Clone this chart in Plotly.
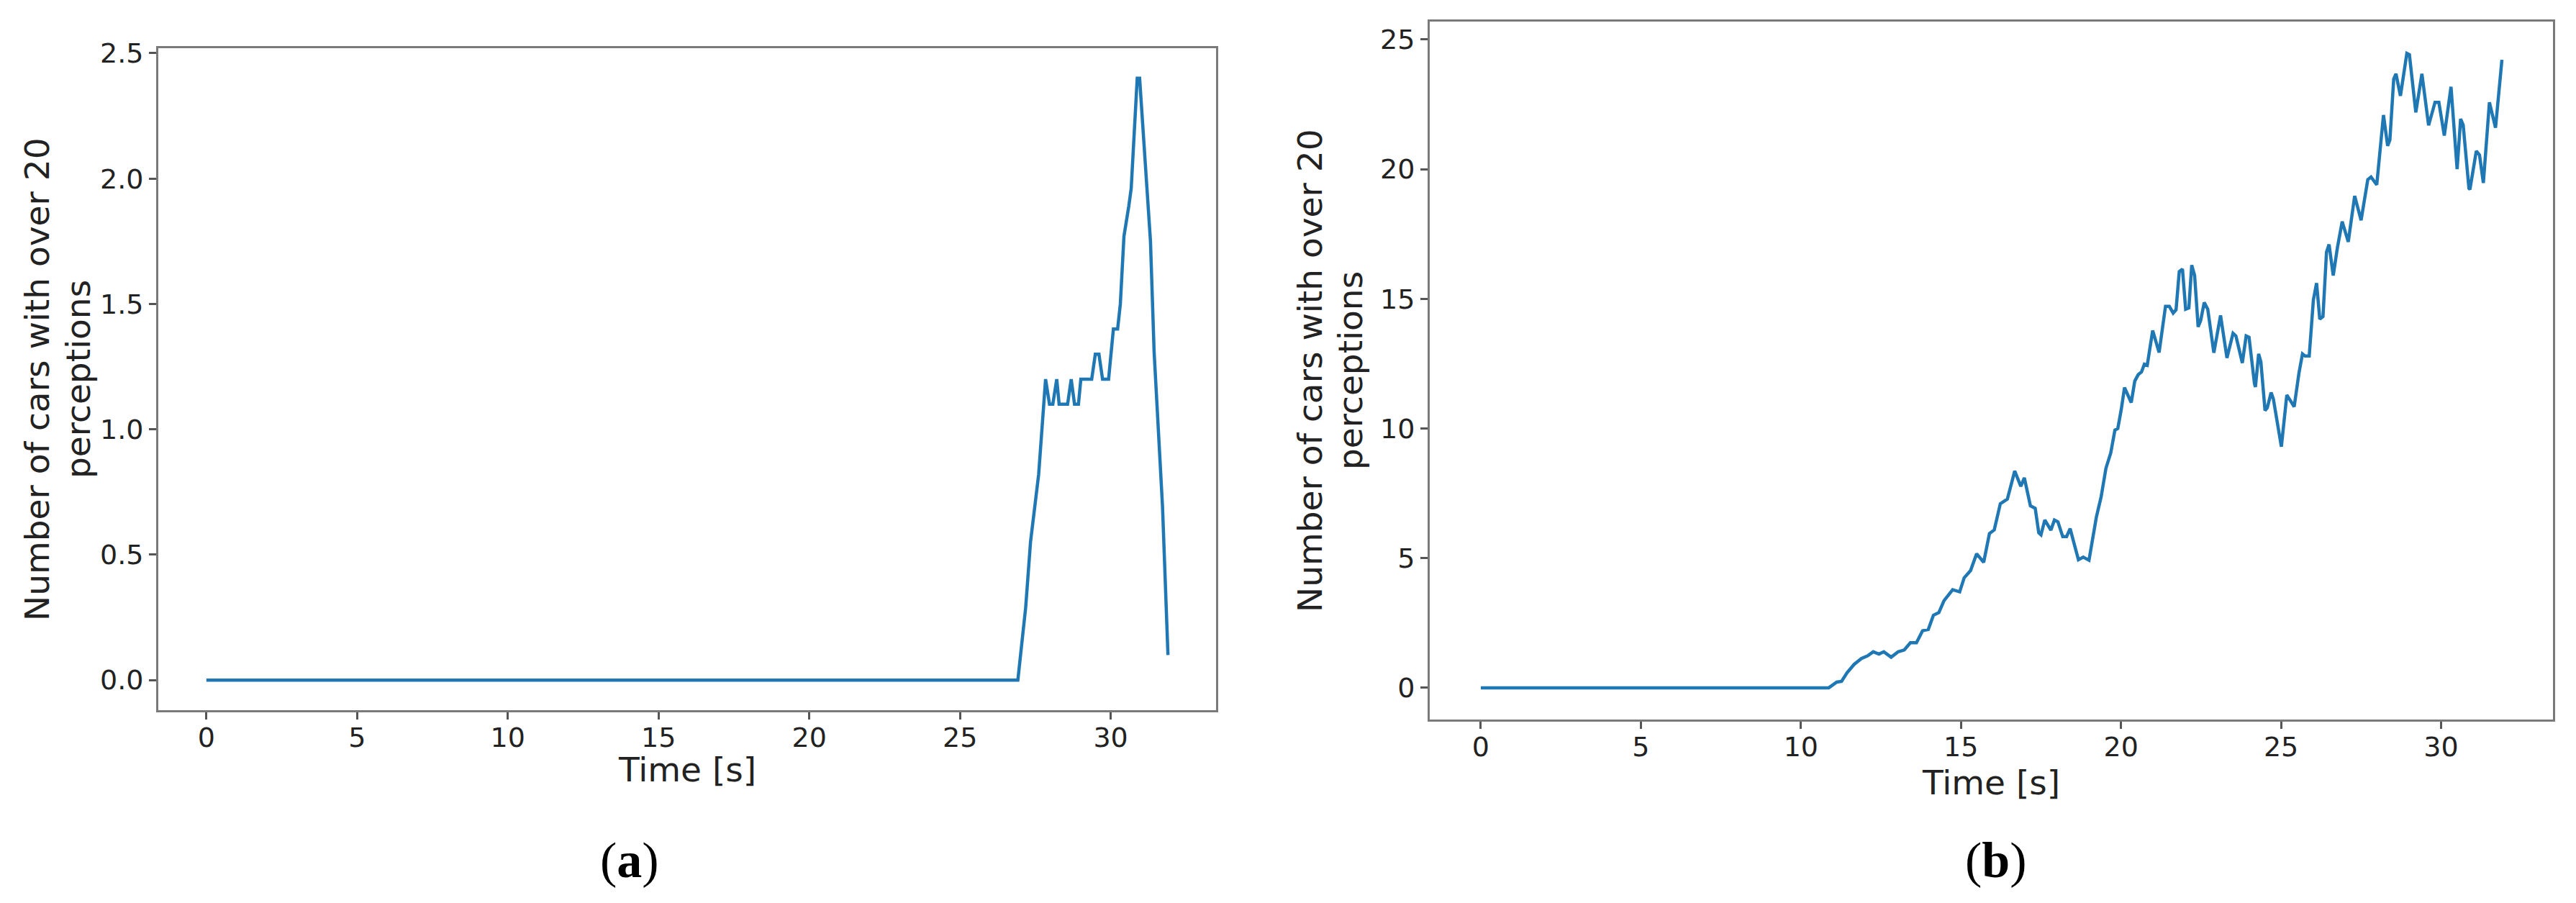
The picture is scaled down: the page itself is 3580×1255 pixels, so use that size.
import plotly.graph_objects as go

# ---------------- data ----------------
time_a = [0, 26.92, 27.18, 27.34, 27.61, 27.84, 27.97, 28.08, 28.21, 28.29, 28.57, 28.69,
          28.8, 28.93, 29.01, 29.37, 29.49, 29.61, 29.73, 29.93, 30.09, 30.23, 30.32, 30.44,
          30.6, 30.68, 30.88, 30.96, 31.32, 31.44, 31.72, 31.9]
cars_a = [0, 0, 0.29, 0.55, 0.82, 1.2, 1.1, 1.1, 1.2, 1.1, 1.1, 1.2,
          1.1, 1.1, 1.2, 1.2, 1.3, 1.3, 1.2, 1.2, 1.4, 1.4, 1.5, 1.77,
          1.89, 1.96, 2.4, 2.4, 1.75, 1.31, 0.69, 0.1]

time_b = [0, 10.87, 11.12, 11.27, 11.44, 11.66, 11.89, 12.08, 12.26, 12.44,
          12.59, 12.82, 13.04, 13.23, 13.42, 13.61, 13.8, 13.98, 14.14, 14.31,
          14.47, 14.74, 14.96, 15.1, 15.3, 15.49, 15.71, 15.89, 16.04, 16.23,
          16.45, 16.68, 16.87, 16.98, 17.17, 17.32, 17.43, 17.5, 17.62, 17.81,
          17.92, 18.03, 18.18, 18.3, 18.41, 18.52, 18.67, 18.82, 19.0, 19.23,
          19.38, 19.53, 19.68, 19.81, 19.9, 20.01, 20.11, 20.32, 20.43, 20.54,
          20.64, 20.73, 20.82, 20.99, 21.19, 21.39, 21.51, 21.63, 21.72, 21.82,
          21.92, 22.02, 22.12, 22.21, 22.3, 22.41, 22.49, 22.6, 22.71, 22.9,
          23.11, 23.31, 23.5, 23.59, 23.79, 23.91, 24.0, 24.17, 24.2, 24.3,
          24.37, 24.5, 24.57, 24.69, 24.76, 25.01, 25.18, 25.29, 25.41, 25.56,
          25.67, 25.75, 25.88, 26.01, 26.11, 26.21, 26.31, 26.42, 26.5, 26.63,
          26.76, 26.91, 27.1, 27.3, 27.5, 27.71, 27.81, 27.99, 28.2, 28.33,
          28.4, 28.52, 28.59, 28.73, 28.93, 29.01, 29.21, 29.4, 29.61, 29.81,
          29.93, 30.1, 30.31, 30.5, 30.61, 30.69, 30.87, 30.9, 31.1, 31.2,
          31.32, 31.51, 31.7, 31.9]
cars_b = [0, 0, 0.22, 0.25, 0.58, 0.9, 1.13, 1.23, 1.39, 1.3,
          1.39, 1.18, 1.39, 1.46, 1.74, 1.74, 2.2, 2.25, 2.8, 2.9,
          3.36, 3.78, 3.7, 4.24, 4.52, 5.17, 4.84, 5.95, 6.09, 7.1,
          7.28, 8.36, 7.77, 8.1, 7.02, 6.92, 5.98, 5.9, 6.47, 6.08,
          6.47, 6.4, 5.83, 5.83, 6.14, 5.58, 4.94, 5.04, 4.92, 6.58,
          7.37, 8.47, 9.06, 9.94, 10.0, 10.75, 11.58, 11.0, 11.83, 12.08,
          12.18, 12.48, 12.44, 13.78, 12.93, 14.71, 14.71, 14.45, 14.58, 16.05,
          16.15, 14.6, 14.65, 16.3, 15.9, 13.92, 14.17, 14.86, 14.6, 12.92,
          14.36, 12.72, 13.67, 13.57, 12.53, 13.57, 13.52, 11.73, 11.6, 12.88,
          12.57, 10.69, 10.8, 11.39, 11.14, 9.3, 11.29, 11.08, 10.84, 12.14,
          12.88, 12.8, 12.8, 14.96, 15.61, 14.22, 14.32, 16.8, 17.1, 15.9,
          16.97, 17.98, 17.2, 18.97, 18.03, 19.6, 19.7, 19.4, 22.09, 20.9,
          21.13, 23.48, 23.68, 22.83, 24.47, 24.42, 22.19, 23.68, 21.69, 22.58,
          22.58, 21.3, 23.18, 20.0, 21.94, 21.7, 19.26, 19.22, 20.7, 20.55,
          19.47, 22.58, 21.6, 24.22]

x_ticks = [0, 5, 10, 15, 20, 25, 30]
y_ticks_a = [0.0, 0.5, 1.0, 1.5, 2.0, 2.5]
y_ticklabels_a = ["0.0", "0.5", "1.0", "1.5", "2.0", "2.5"]
y_ticks_b = [0, 5, 10, 15, 20, 25]

x_title = "Time [s]"
y_title_lines = ["Number of cars with over 20", "perceptions"]
captions = ["(<b>a</b>)", "(<b>b</b>)"]

assert len(time_a) == len(cars_a)
assert len(time_b) == len(cars_b)

# ---------------- figure ----------------
W, H = 3580, 1255
LINE = "#1f77b4"
FONT = "DejaVu Sans"
TXT = "#222222"

fig = go.Figure()
fig.add_trace(go.Scatter(x=time_a, y=cars_a, mode="lines", line=dict(color=LINE, width=4.5),
                         xaxis="x", yaxis="y", showlegend=False))
fig.add_trace(go.Scatter(x=time_b, y=cars_b, mode="lines", line=dict(color=LINE, width=4.5),
                         xaxis="x2", yaxis="y2", showlegend=False))

def px_x(p):
    return p / W

def px_y(p):
    return 1 - p / H

axis_common = dict(showgrid=False, zeroline=False, showline=True, mirror=True,
                   linecolor="#7a7a7a", linewidth=3, ticks="outside", ticklen=10,
                   tickwidth=2.5, tickcolor="#555555",
                   tickfont=dict(family=FONT, size=38, color=TXT))

x_rng = [-1.595, 33.495]

fig.update_layout(
    width=W, height=H, autosize=False,
    margin=dict(l=0, r=0, t=0, b=0, autoexpand=False),
    paper_bgcolor="white", plot_bgcolor="white",
    xaxis=dict(domain=[px_x(220), px_x(1690)], range=x_rng, anchor="y",
               tickvals=x_ticks, ticklabelstandoff=-8, **axis_common),
    yaxis=dict(domain=[px_y(987), px_y(67)], range=[-0.12, 2.52], anchor="x",
               tickvals=y_ticks_a, ticktext=y_ticklabels_a, **axis_common),
    xaxis2=dict(domain=[px_x(1987), px_x(3548)], range=x_rng, anchor="y2",
                tickvals=x_ticks, ticklabelstandoff=-8, **axis_common),
    yaxis2=dict(domain=[px_y(1000), px_y(30)], range=[-1.2235, 25.6935], anchor="x2",
                tickvals=y_ticks_b, **axis_common),
)

ann = []

def ytitle(line, xc, yc):
    ann.append(dict(text=line, x=px_x(xc), y=px_y(yc), xref="paper", yref="paper",
                    textangle=-90, showarrow=False, xanchor="center", yanchor="middle",
                    font=dict(family=FONT, size=47, color=TXT)))

# y titles (two lines each)
ytitle(y_title_lines[0], 51, 527)
ytitle(y_title_lines[1], 108, 527)
ytitle(y_title_lines[0], 1820, 515)
ytitle(y_title_lines[1], 1876, 515)

# x titles
ann.append(dict(text=x_title, x=px_x(955), y=px_y(1040), xref="paper", yref="paper",
                showarrow=False, xanchor="center", yanchor="top",
                font=dict(family=FONT, size=47, color=TXT)))
ann.append(dict(text=x_title, x=px_x(2767), y=px_y(1058), xref="paper", yref="paper",
                showarrow=False, xanchor="center", yanchor="top",
                font=dict(family=FONT, size=47, color=TXT)))
# captions
ann.append(dict(text=captions[0], x=px_x(875), y=px_y(1195), xref="paper", yref="paper",
                showarrow=False, xanchor="center", yanchor="middle",
                font=dict(family="Liberation Serif", size=70, color="#000000")))
ann.append(dict(text=captions[1], x=px_x(2774), y=px_y(1195), xref="paper", yref="paper",
                showarrow=False, xanchor="center", yanchor="middle",
                font=dict(family="Liberation Serif", size=70, color="#000000")))
fig.update_layout(annotations=ann)

fig.write_html("out.html", config={"displayModeBar": False},
               post_script="document.body.style.margin='0px';document.body.style.overflow='hidden';")
